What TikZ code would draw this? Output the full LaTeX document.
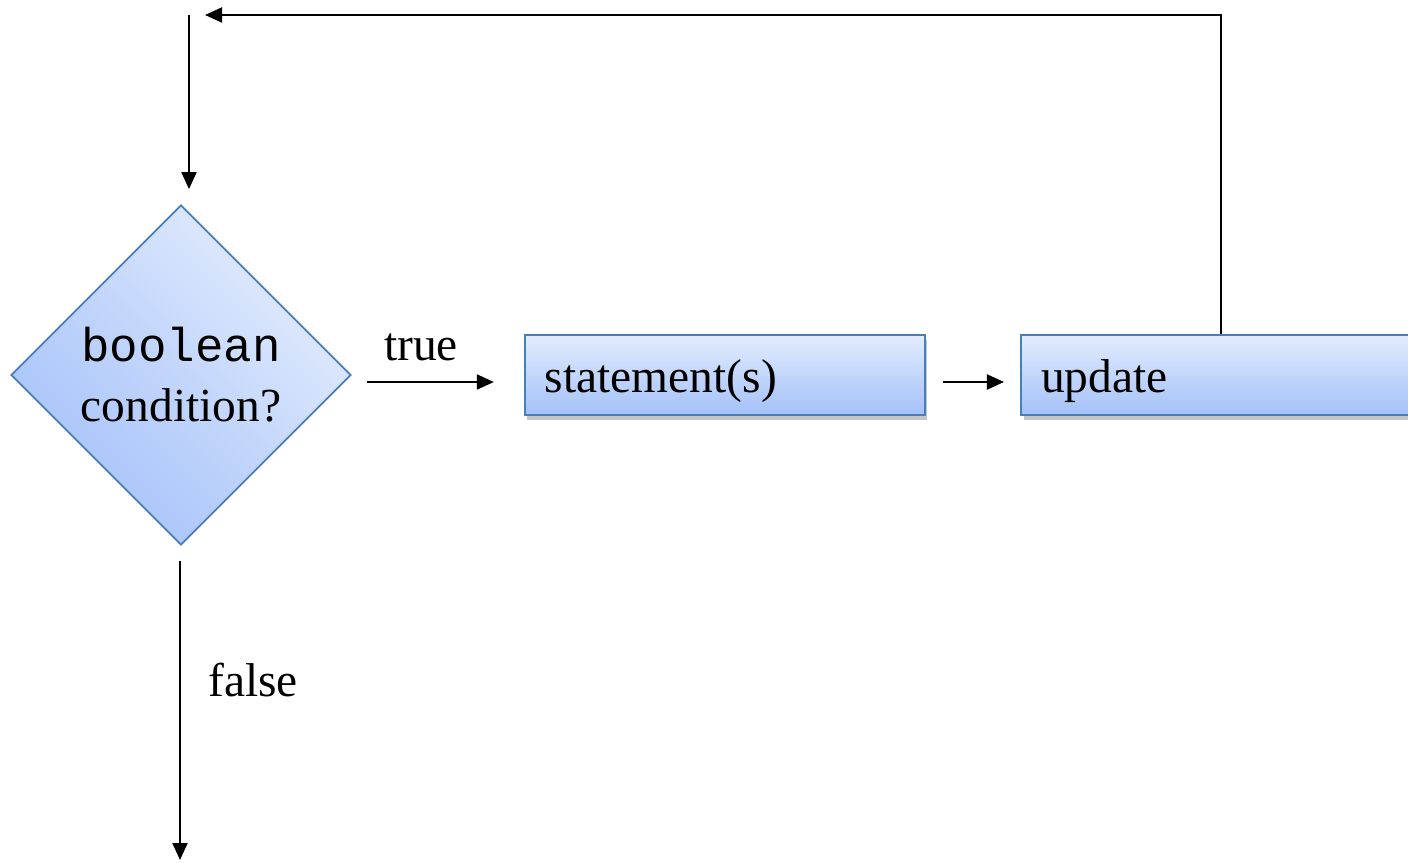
\documentclass[tikz,border=0pt]{standalone}
\usepackage{fontspec}
\setmainfont{Liberation Serif}
\newfontfamily\codefont{Liberation Mono}
\usepackage{tikz}
\usetikzlibrary{arrows.meta}
\usetikzlibrary{positioning}
\usetikzlibrary{shapes.geometric}
\usetikzlibrary{shadows}
\definecolor{edgeblue}{HTML}{4A7EBB}
\definecolor{lightblue}{HTML}{E3ECFD}
\definecolor{deepblue}{HTML}{A3C1F9}

\begin{document}
\begin{tikzpicture}[>={Triangle[length=0.34cm,width=0.3cm]},
	flow/.style={->,line width=1.1pt},
	decision/.style={diamond,draw=edgeblue,line width=1pt,shading=axis,
		top color=lightblue,bottom color=deepblue,shading angle=-45,
		minimum width=6.8cm,minimum height=6.8cm,align=center,
		font=\fontsize{27}{34}\selectfont},
	actbox/.style={rectangle,draw=edgeblue,line width=1.2pt,
		top color=lightblue,bottom color=deepblue,
		drop shadow={shadow xshift=0.05cm,shadow yshift=-0.1cm,opacity=0.45},
		minimum width=8cm,minimum height=1.6cm,text width=7.2cm,
		inner xsep=0.4cm,inner ysep=0.3cm,
		text height=0.8cm,text depth=0.1cm,
		align=left,font=\fontsize{27}{34}\selectfont},
	lbl/.style={font=\fontsize{27}{34}\selectfont}]
	\clip (0,0) rectangle (28.16,-17.26);
	% nodes
	\node[decision] (cond) at (3.62,-7.5) {{\codefont boolean}\\condition?};
	\node[actbox,right=3.44cm of cond] (stmt) {statement(s)};
	\node[actbox,right=1.88cm of stmt] (upd) {update};
	\coordinate (top) at (3.78,-0.3);
	\coordinate (back) at (4.1,-0.3);
	\coordinate (out) at (3.6,-17.2);
	\node[lbl] (yes) at (8.42,-6.94) {true};
	\node[lbl] (no) at (5.06,-13.6) {false};
	% connectors
	\draw[flow,shorten <=0.3cm,shorten >=0.6cm] ([yshift=-0.14cm]cond.east) -- ([yshift=-0.14cm]stmt.west);
	\draw[flow,shorten <=0.34cm,shorten >=0.32cm] ([yshift=-0.14cm]stmt.east) -- ([yshift=-0.14cm]upd.west);
	\draw[flow] (upd.north) |- (back);
	\draw[flow,shorten >=0.3cm] (top) -- (top |- cond.north);
	\draw[flow,shorten <=0.3cm] (out |- cond.south) -- (out);
\end{tikzpicture}
\end{document}
